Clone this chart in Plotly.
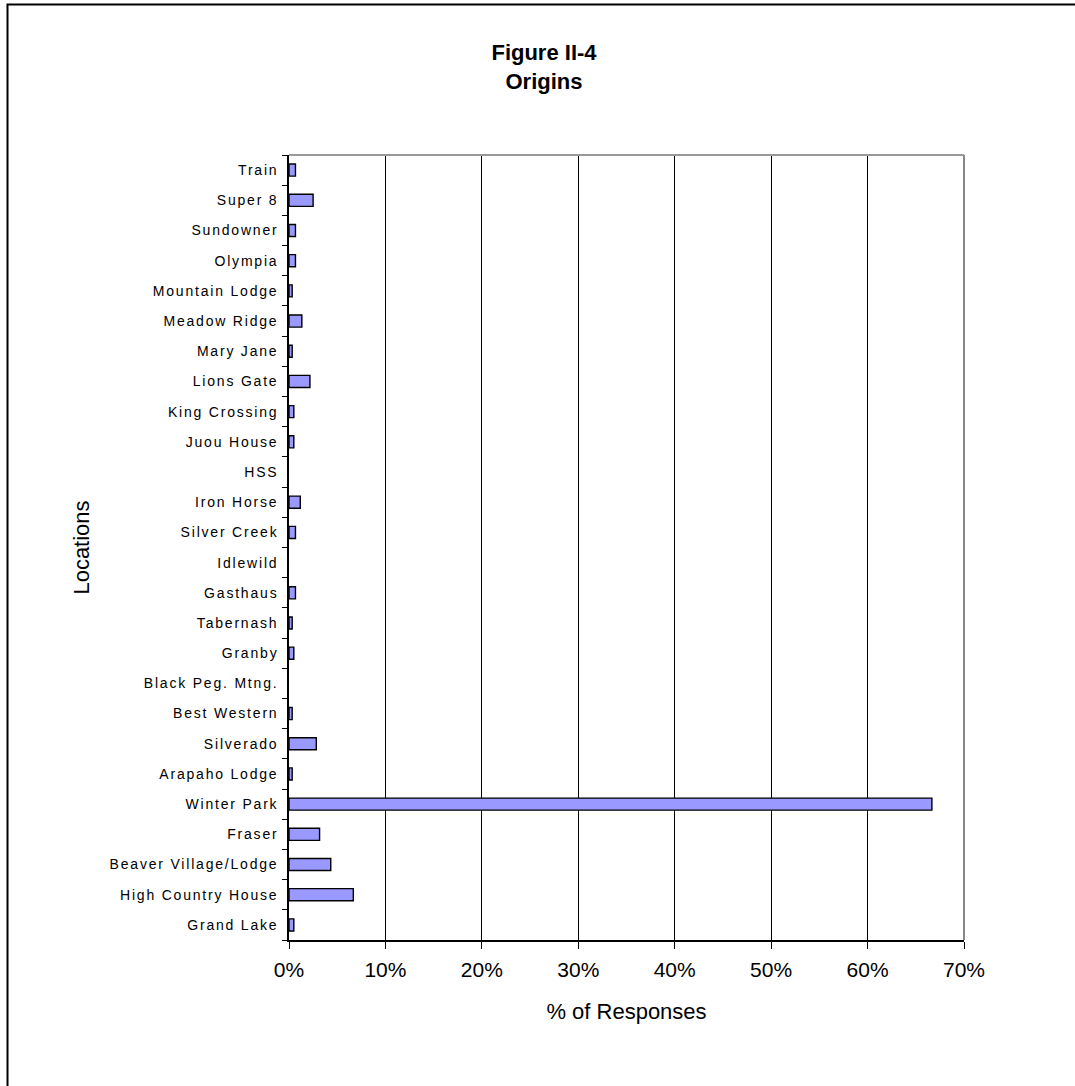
import plotly.graph_objects as go

# Share of survey responses by origin location (bottom to top)
locations = [
    "Grand Lake", "High Country House", "Beaver Village/Lodge", "Fraser",
    "Winter Park", "Arapaho Lodge", "Silverado", "Best Western",
    "Black Peg. Mtng.", "Granby", "Tabernash", "Gasthaus", "Idlewild",
    "Silver Creek", "Iron Horse", "HSS", "Juou House", "King Crossing",
    "Lions Gate", "Mary Jane", "Meadow Ridge", "Mountain Lodge", "Olympia",
    "Sundowner", "Super 8", "Train",
]
pct_responses = [
    0.50, 6.67, 4.33, 3.17,
    66.67, 0.33, 2.83, 0.33,
    0.0, 0.50, 0.33, 0.67, 0.0,
    0.67, 1.17, 0.0, 0.50, 0.50,
    2.17, 0.33, 1.33, 0.33, 0.67,
    0.67, 2.50, 0.67,
]
x_ticks = [0, 10, 20, 30, 40, 50, 60, 70]

W, H = 1075, 1086
L, R, T, B = 289, 111, 155, 146
pw, ph = W - L - R, H - T - B

def px_x(x):
    return (x - L) / pw

def px_y(y):
    return 1 - (y - T) / ph

# no outline on empty bars
outline_widths = [1.4 if v > 0 else 0 for v in pct_responses]

fig = go.Figure(
    go.Bar(
        x=pct_responses,
        y=locations,
        orientation="h",
        marker=dict(color="#9999FF",
                    line=dict(color="#000000", width=outline_widths)),
        hoverinfo="x+y",
    )
)

font_main = "Liberation Sans, Arial, sans-serif"

fig.update_layout(
    width=W,
    height=H,
    margin=dict(l=L, r=R, t=T, b=B, pad=0),
    paper_bgcolor="white",
    plot_bgcolor="white",
    showlegend=False,
    bargap=0.6,
    font=dict(family=font_main, color="#000000"),
    title=dict(
        text="<b>Figure II-4</b><br><b>Origins</b>",
        x=px_x(544), xref="paper", xanchor="center",
        y=1 - 60 / H, yref="container", yanchor="top",
        font=dict(size=22, family=font_main),
    ),
    xaxis=dict(
        range=[0, 70],
        tickvals=x_ticks,
        ticktext=[f"{v}%" for v in x_ticks],
        tickfont=dict(size=21),
        ticklabelstandoff=3,
        ticks="outside", ticklen=7, tickcolor="#000000", tickwidth=1.3,
        showgrid=True, gridcolor="#000000", gridwidth=1.3,
        showline=True, linecolor="#000000", linewidth=1.5,
        zeroline=False,
        title=dict(text="% of Responses", font=dict(size=22), standoff=24),
        fixedrange=True,
    ),
    yaxis=dict(
        type="category",
        categoryorder="array",
        categoryarray=locations,
        tickson="boundaries",
        ticks="outside", ticklen=5, tickcolor="#000000", tickwidth=1.3,
        tickfont=dict(size=14),
        ticklabelstandoff=6,
        showgrid=False,
        showline=True, linecolor="#000000", linewidth=1.5,
        title=dict(text="Locations", font=dict(size=22), standoff=50),
        fixedrange=True,
    ),
    shapes=[
        # gray top and right edges of the plot area
        dict(type="line", xref="paper", yref="paper", x0=0, x1=1, y0=1, y1=1,
             line=dict(color="#999999", width=2), layer="above"),
        dict(type="line", xref="paper", yref="paper", x0=1, x1=1, y0=0, y1=1,
             line=dict(color="#888888", width=2), layer="above"),
        # outer chart frame
        dict(type="rect", xref="paper", yref="paper",
             x0=px_x(7.5), x1=px_x(W + 20), y0=px_y(H + 20), y1=px_y(4.5),
             line=dict(color="#000000", width=2), layer="above"),
    ],
)

# widen the spacing between letters of the location labels
letter_spacing_js = (
    "var gd=document.getElementById('{plot_id}');"
    "gd.querySelectorAll('.ytick text').forEach(function(t){"
    "t.style.letterSpacing='1.8px';});"
)

fig.write_html("out.html", post_script=letter_spacing_js,
               config={"displayModeBar": False})
